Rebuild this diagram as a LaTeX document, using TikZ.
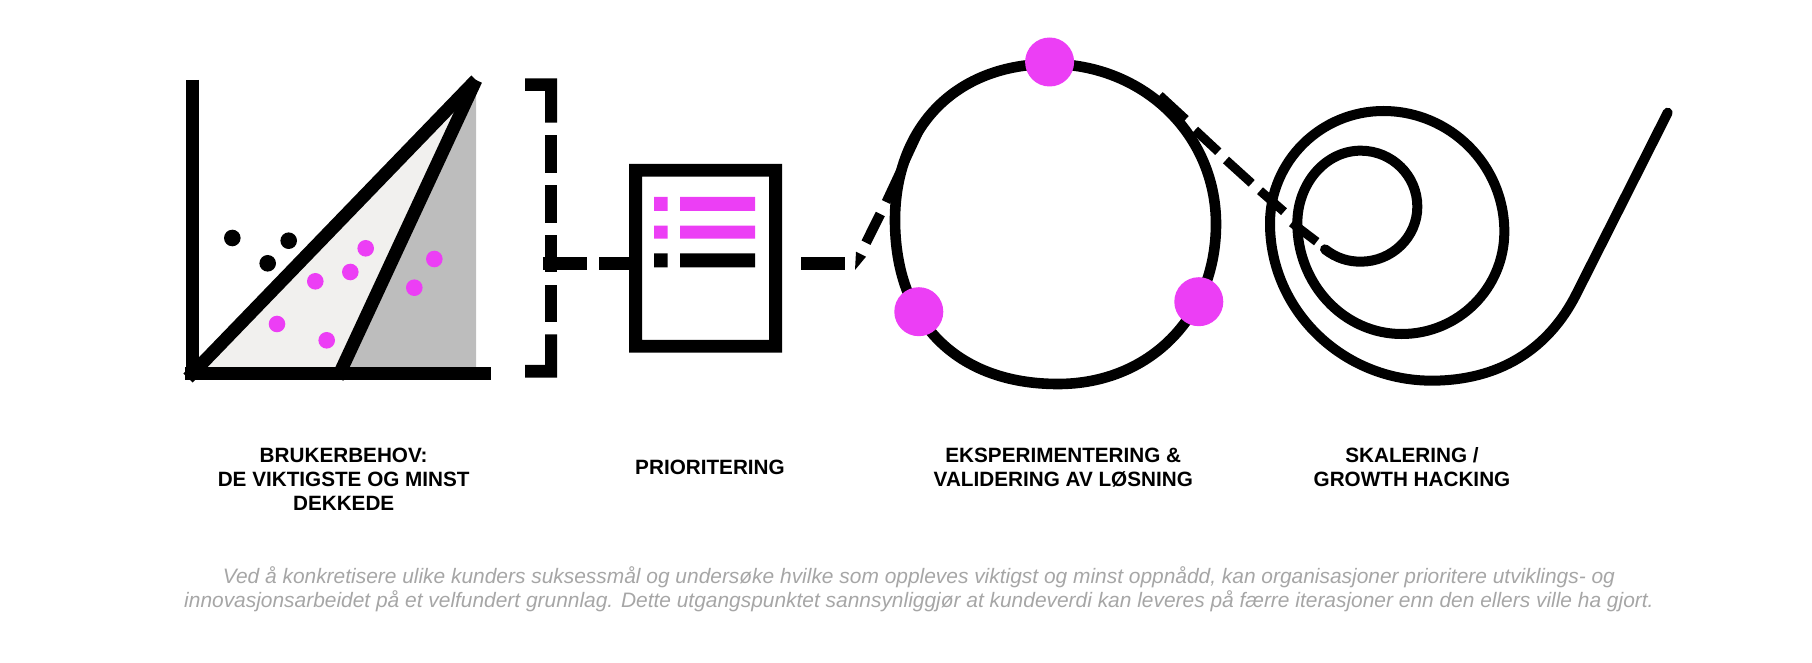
\documentclass[tikz,border=0pt]{standalone}
\usepackage{fontspec}
\setmainfont{Liberation Sans}
\definecolor{pinkdot}{HTML}{EC3EF5}
\definecolor{lightfill}{HTML}{F1F0EE}
\definecolor{grayfill}{HTML}{BDBDBD}
\definecolor{notegray}{HTML}{A6A6A6}
\tikzset{
  heavy/.style={line width=6.5pt,black},
  dashpiece/.style={line width=4.5pt,black},
  ringline/.style={line width=5.3pt,black},
  spiralline/.style={line width=5pt,black,line cap=round,line join=round},
  smalldot/.style={radius=8.3},
  bigdot/.style={radius=24.5},
  heading/.style={font=\fontsize{10.35}{12.1}\selectfont\bfseries,align=center,inner sep=0pt,text=black},
  note/.style={font=\fontsize{10.46}{12.15}\selectfont\itshape,align=center,inner sep=0pt,text=notegray},
}
\begin{document}
\begin{tikzpicture}[x=0.5pt,y=-0.5pt]
\useasboundingbox (0,0) rectangle (1812,663);
% chart
\fill[grayfill] (338,374) -- (476,84) -- (476,374) -- cycle;
\fill[lightfill] (192,374) -- (473,84) -- (338,374) -- cycle;
\draw[heavy] (192,80) -- (192,374);
\draw[heavy] (185,374) -- (491,374);
\draw[heavy] (188,378) -- (476,80);
\draw[heavy] (337.5,378) -- (476,80);
\foreach \x/\y in {232.3/238,288.7/240.7,267.7/263.3}
  \fill[black] (\x,\y) circle[smalldot];
\foreach \x/\y in {365.7/248.3,350.3/272,315.3/281.3,277/324,326.7/340.3,434.3/259,414.3/287.7}
  \fill[pinkdot] (\x,\y) circle[smalldot];
% bracket
\fill (525,78.3) -- (557,78.3) -- (557,122.7) -- (545,122.7) -- (545,91) -- (525,91) -- cycle;
\foreach \a/\b in {135.3/172.7,185.3/222.7,235/272,285/321.7}
  \fill (545,\a) rectangle (557,\b);
\fill (525,377.7) -- (557,377.7) -- (557,334.3) -- (545,334.3) -- (545,365) -- (525,365) -- cycle;
% document
\fill[even odd rule] (629,164) rectangle (782,352.7) (642,176.7) rectangle (769,340);
\fill[pinkdot] (654,197) rectangle (667.5,211) (680,197) rectangle (755,211);
\fill[pinkdot] (654,225.7) rectangle (667.5,238.7) (680,225.7) rectangle (755,238.7);
\fill[black] (654,253.3) rectangle (667.5,267.3) (680,253.3) rectangle (755,267.3);
% dashes around the document
\fill (543.4,257.3) rectangle (586.7,270);
\fill (599.2,257.3) rectangle (641.6,270);
\fill (801.4,257.3) rectangle (845.2,270);
\fill (855,270) -- (856,251.7) -- (866,256.7) -- cycle;
\draw[dashpiece,line width=5pt] (866,242.7) -- (880.3,214);
\draw[dashpiece] (886,202) -- (921,127);
% ring
\draw[ringline] (895,220) .. controls (895,126) and (957,64) .. (1050,64)
  .. controls (1143,64) and (1216,134) .. (1216,224)
  .. controls (1216,317) and (1149,384) .. (1058,384)
  .. controls (957,384) and (895,322) .. (895,220) -- cycle;
\fill[pinkdot] (1049.6,62) circle[bigdot];
\fill[pinkdot] (918.8,311.7) circle[bigdot];
\fill[pinkdot] (1198.8,301.7) circle[bigdot];
% dashes ring to spiral
\draw[dashpiece,line width=4pt] (1160,95) -- (1186,119);
\draw[dashpiece] (1195,130) -- (1218.3,151.7);
\draw[dashpiece] (1226,160) -- (1251.7,183.3);
\draw[dashpiece] (1260,190.7) -- (1284,211.7);
\draw[dashpiece] (1291.7,222.7) -- (1316.7,241.7);
% spiral
\begin{scope}[xshift=620pt,yshift=-45pt,x=0.16667pt,y=-0.16667pt]
\draw[spiralline] (255,478) .. controls (290,505) and (325,515) .. (362,515)
  .. controls (456,515) and (532,441) .. (532,350)
  .. controls (532,257) and (456,182) .. (362,182)
  .. controls (257,182) and (172,280) .. (172,400)
  .. controls (172,583) and (312,732) .. (485,732)
  .. controls (655,732) and (793,595) .. (793,425)
  .. controls (793,225) and (630,63) .. (430,63)
  .. controls (242,63) and (90,214) .. (90,400)
  .. controls (90,660) and (307,872) .. (575,872)
  .. controls (775,872) and (925,780) .. (1010,610)
  -- (1283,68);
\end{scope}
% labels
\node[heading] (needs) at (343.7,479.5) {BRUKERBEHOV:\\DE VIKTIGSTE OG MINST\\DEKKEDE};
\node[heading] (prio) at (710,467) {PRIORITERING};
\node[heading] (exp) at (1063.3,467.5) {EKSPERIMENTERING \&\\VALIDERING AV LØSNING};
\node[heading] (scale) at (1412,467.5) {SKALERING /\\GROWTH HACKING};
\node[note] (notetext) at (919,589) {Ved å konkretisere ulike kunders suksessmål og undersøke hvilke som oppleves viktigst og minst oppnådd, kan organisasjoner prioritere utviklings- og\\innovasjonsarbeidet på et velfundert grunnlag. Dette utgangspunktet sannsynliggjør at kundeverdi kan leveres på færre iterasjoner enn den ellers ville ha gjort.};
\end{tikzpicture}
\end{document}
